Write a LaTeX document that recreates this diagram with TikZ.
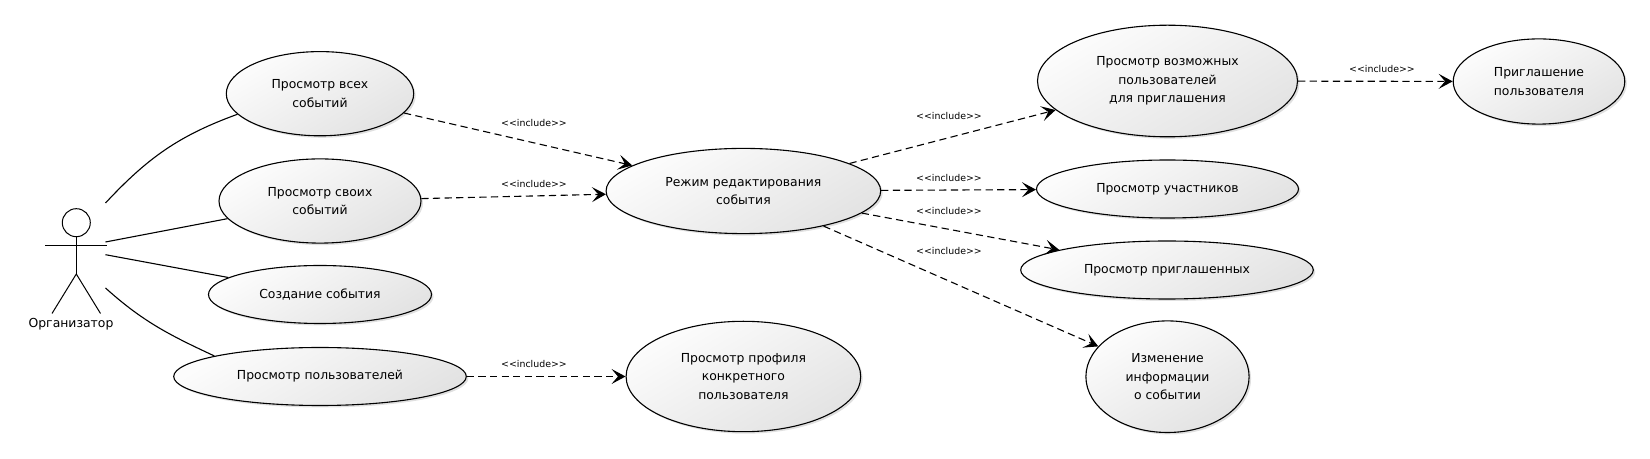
\documentclass[tikz,border=0pt]{standalone}
\usepackage{fontspec}
\setmainfont{DejaVu Sans}
\usepackage{tikz}
\usetikzlibrary{shapes.geometric,shadows,arrows.meta}
\tikzset{
	usecase/.style={ellipse, draw, line width=.55pt, inner sep=0pt, align=center, font=\fontsize{6.2}{9.3}\selectfont,
		shading=axis, top color=white!99!black, bottom color=white!89!black, shading angle=30,
		drop shadow={shadow xshift=1pt, shadow yshift=-1pt, fill=black, opacity=.12}},
	actorline/.style={line width=.5pt},
	assoc/.style={line width=.55pt},
	incl/.style={line width=.55pt, dash pattern=on 3.6pt off 2.2pt, -{Stealth[length=7pt,width=7.5pt,inset=3.2pt]}},
	incllabel/.style={font=\fontsize{4.7}{6}\selectfont, inner sep=0pt},
}
\begin{document}
\begin{tikzpicture}[x=.5pt,y=-.5pt]
		\useasboundingbox (0,0) rectangle (1650,459);
		\node[usecase, minimum width=93.7pt, minimum height=42.1pt] at (320,93.7) (all) {Просмотр всех\\событий};
		\node[usecase, minimum width=101pt, minimum height=42.1pt] at (320,201) (own) {Просмотр своих\\событий};
		\node[usecase, minimum width=111.5pt, minimum height=29pt] at (320,294.5) (create) {Создание события};
		\node[usecase, minimum width=146.3pt, minimum height=29pt] at (320,376.5) (users) {Просмотр пользователей};
		\node[usecase, minimum width=137.3pt, minimum height=42.6pt] at (743.4,191) (edit) {Режим редактирования\\события};
		\node[usecase, minimum width=117.3pt, minimum height=55.2pt] at (743.4,376.5) (profile) {Просмотр профиля\\конкретного\\пользователя};
		\node[usecase, minimum width=130pt, minimum height=55.8pt] at (1167.5,81) (possible) {Просмотр возможных\\пользователей\\для приглашения};
		\node[usecase, minimum width=131pt, minimum height=29pt] at (1167.5,189) (members) {Просмотр участников};
		\node[usecase, minimum width=146.3pt, minimum height=29pt] at (1167,270) (invited) {Просмотр приглашенных};
		\node[usecase, minimum width=81.6pt, minimum height=55.8pt] at (1167.5,376.7) (change) {Изменение\\информации\\о событии};
		\node[usecase, minimum width=85.8pt, minimum height=42.6pt] at (1539,81.5) (invite) {Приглашение\\пользователя};
		\node[circle, draw, actorline, minimum size=14pt, inner sep=0pt] at (76.3,222.7) (head) {};
		\coordinate (hip) at (76.3,274);
		\coordinate (armL) at (45,245.3);
		\coordinate (armR) at (107,245.3);
		\coordinate (legL) at (52,313.5);
		\coordinate (legR) at (100.5,313.5);
		\draw[actorline] (head) -- (hip);
		\draw[actorline] (armL) -- (armR);
		\draw[actorline] (legL) -- (hip) -- (legR);
		\node[font=\fontsize{6.2}{9}\selectfont, inner sep=0pt] at (71,324.5) (actor) {Организатор};
		\coordinate (a1) at (105.5,203);
		\coordinate (a2) at (105.5,242);
		\coordinate (a3) at (105.5,254.7);
		\coordinate (a4) at (105.5,288);
		\draw[assoc] (a1) to[out=47, in=200] (all.194);
		\draw[assoc] (a2) -- (own);
		\draw[assoc] (a3) -- (create);
		\draw[assoc] (a4) to[out=-42, in=155] (users.169);
		\draw[incl] (all) -- (edit);
		\draw[incl] (own) -- (edit);
		\draw[incl] (users) -- (profile);
		\draw[incl] (edit) -- (possible);
		\draw[incl] (edit) -- (members);
		\draw[incl] (edit) -- (invited);
		\draw[incl] (edit) -- (change);
		\draw[incl] (possible) -- (invite);
		\node[incllabel] at (534,123) (l1) {<{}<include>{}>};
		\node[incllabel] at (534,184) (l2) {<{}<include>{}>};
		\node[incllabel] at (534,364) (l3) {<{}<include>{}>};
		\node[incllabel] at (949,116) (l4) {<{}<include>{}>};
		\node[incllabel] at (949,178) (l5) {<{}<include>{}>};
		\node[incllabel] at (949,211) (l6) {<{}<include>{}>};
		\node[incllabel] at (949,251) (l7) {<{}<include>{}>};
		\node[incllabel] at (1382,69) (l8) {<{}<include>{}>};
		\end{tikzpicture}
\end{document}
